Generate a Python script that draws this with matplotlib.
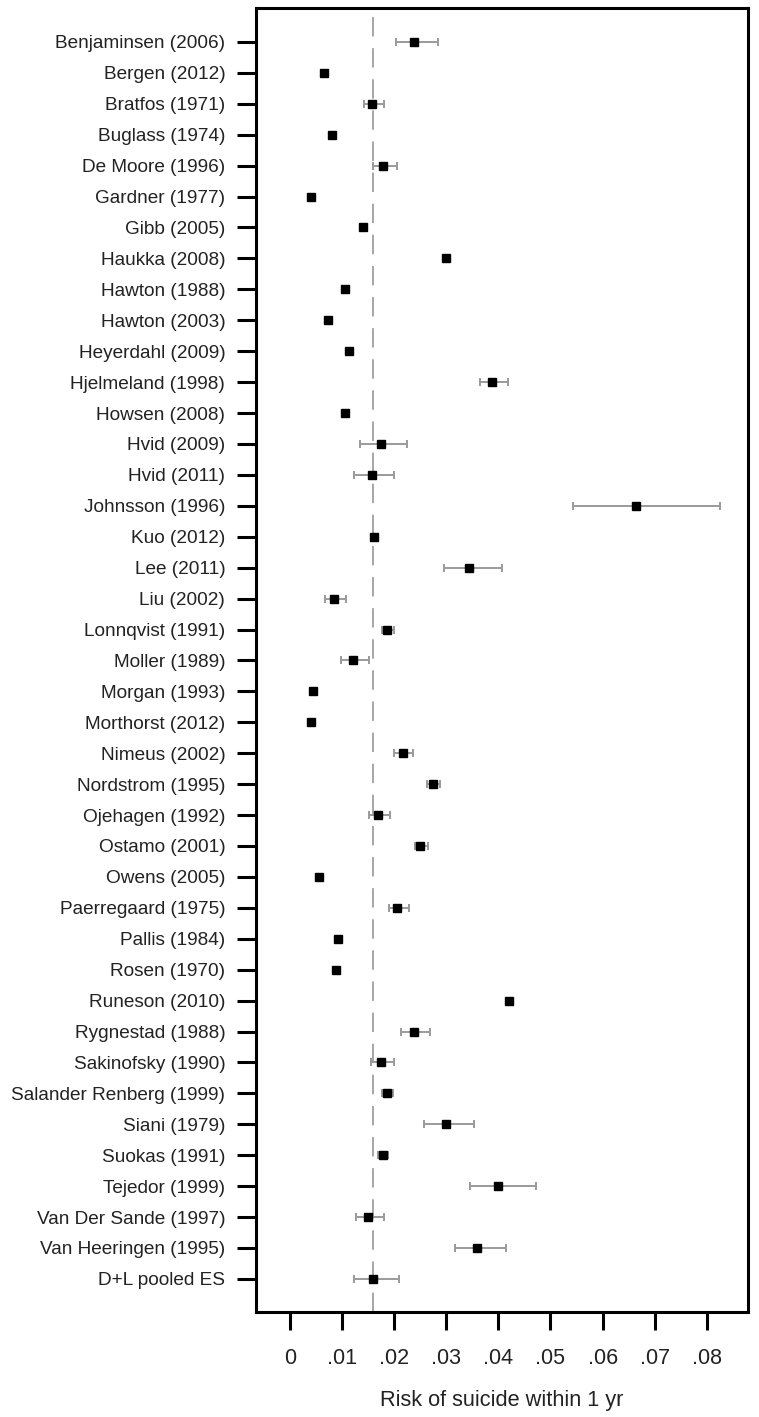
# Forest plot: risk of suicide within 1 yr by study
import numpy as np
import matplotlib.pyplot as plt

plt.rcParams["font.family"] = ["Liberation Sans", "DejaVu Sans"]

# Study labels (top to bottom)
studies = [
    "Benjaminsen (2006)", "Bergen (2012)", "Bratfos (1971)", "Buglass (1974)",
    "De Moore (1996)", "Gardner (1977)", "Gibb (2005)", "Haukka (2008)",
    "Hawton (1988)", "Hawton (2003)", "Heyerdahl (2009)", "Hjelmeland (1998)",
    "Howsen (2008)", "Hvid (2009)", "Hvid (2011)", "Johnsson (1996)",
    "Kuo (2012)", "Lee (2011)", "Liu (2002)", "Lonnqvist (1991)",
    "Moller (1989)", "Morgan (1993)", "Morthorst (2012)", "Nimeus (2002)",
    "Nordstrom (1995)", "Ojehagen (1992)", "Ostamo (2001)", "Owens (2005)",
    "Paerregaard (1975)", "Pallis (1984)", "Rosen (1970)", "Runeson (2010)",
    "Rygnestad (1988)", "Sakinofsky (1990)", "Salander Renberg (1999)", "Siani (1979)",
    "Suokas (1991)", "Tejedor (1999)", "Van Der Sande (1997)", "Van Heeringen (1995)",
    "D+L pooled ES",
]

# Effect sizes (proportions) and confidence limits
es = [
    0.0239, 0.0065, 0.0158, 0.0081, 0.0178, 0.0040, 0.0141, 0.0299,
    0.0106, 0.0073, 0.0113, 0.0388, 0.0106, 0.0174, 0.0158, 0.0665,
    0.0161, 0.0343, 0.0085, 0.0186, 0.0122, 0.0045, 0.0040, 0.0218,
    0.0274, 0.0169, 0.0250, 0.0056, 0.0205, 0.0093, 0.0089, 0.0420,
    0.0238, 0.0174, 0.0186, 0.0299, 0.0178, 0.0399, 0.0150, 0.0359,
    0.0159,
]
ci_lo = [
    0.0203, 0.0060, 0.0143, 0.0076, 0.0160, 0.0036, 0.0136, 0.0294,
    0.0101, 0.0069, 0.0108, 0.0365, 0.0101, 0.0135, 0.0124, 0.0543,
    0.0157, 0.0296, 0.0067, 0.0176, 0.0099, 0.0041, 0.0037, 0.0200,
    0.0263, 0.0152, 0.0240, 0.0053, 0.0191, 0.0089, 0.0085, 0.0416,
    0.0213, 0.0155, 0.0176, 0.0257, 0.0170, 0.0346, 0.0127, 0.0317,
    0.0124,
]
ci_hi = [
    0.0285, 0.0070, 0.0180, 0.0086, 0.0205, 0.0044, 0.0146, 0.0304,
    0.0113, 0.0077, 0.0118, 0.0419, 0.0113, 0.0225, 0.0200, 0.0826,
    0.0165, 0.0407, 0.0107, 0.0200, 0.0151, 0.0050, 0.0045, 0.0237,
    0.0289, 0.0193, 0.0266, 0.0060, 0.0229, 0.0098, 0.0094, 0.0424,
    0.0269, 0.0200, 0.0197, 0.0354, 0.0189, 0.0472, 0.0180, 0.0415,
    0.0209,
]

x_ticks = [0, 0.01, 0.02, 0.03, 0.04, 0.05, 0.06, 0.07, 0.08]
x_tick_labels = ["0", ".01", ".02", ".03", ".04", ".05", ".06", ".07", ".08"]

es_arr = np.array(es)
lo_arr = np.array(ci_lo)
hi_arr = np.array(ci_hi)
y_pos = np.arange(len(studies))

fig = plt.figure(figsize=(7.59, 14.17), dpi=100)
ax = fig.add_axes([0.337, 0.0741, 0.6485, 0.9203])

# Dashed reference line at the pooled estimate
ax.axvline(es_arr[-1], color="#a6a6a6", linewidth=1.4,
           linestyle=(0, (10, 6)), zorder=1)

# Confidence intervals
ax.errorbar(
    es_arr, y_pos,
    xerr=[es_arr - lo_arr, hi_arr - es_arr],
    fmt="none", ecolor="#9a9a9a", elinewidth=1.4,
    capsize=3.2, capthick=1.4, zorder=2
)

# Point estimates
ax.plot(es_arr, y_pos, "s", color="black", markersize=6.3, zorder=3)

ax.set_xlim(-0.00653, 0.0879)
ax.set_ylim(41.07, -1.10)

ax.set_yticks(y_pos)
ax.set_yticklabels(studies, fontsize=13.7, color="#222222")
ax.set_xticks(x_ticks)
ax.set_xticklabels(x_tick_labels, fontsize=15.5, color="#222222")

ax.tick_params(axis="y", direction="out", length=14, width=2.2, pad=8)
ax.tick_params(axis="x", direction="out", length=13, width=2.2, pad=13)

for spine in ax.spines.values():
    spine.set_linewidth(2.2)

ax.set_xlabel("Risk of suicide within 1 yr", fontsize=15.7,
              color="#222222", labelpad=15)

fig.savefig("out.png", dpi=100)
